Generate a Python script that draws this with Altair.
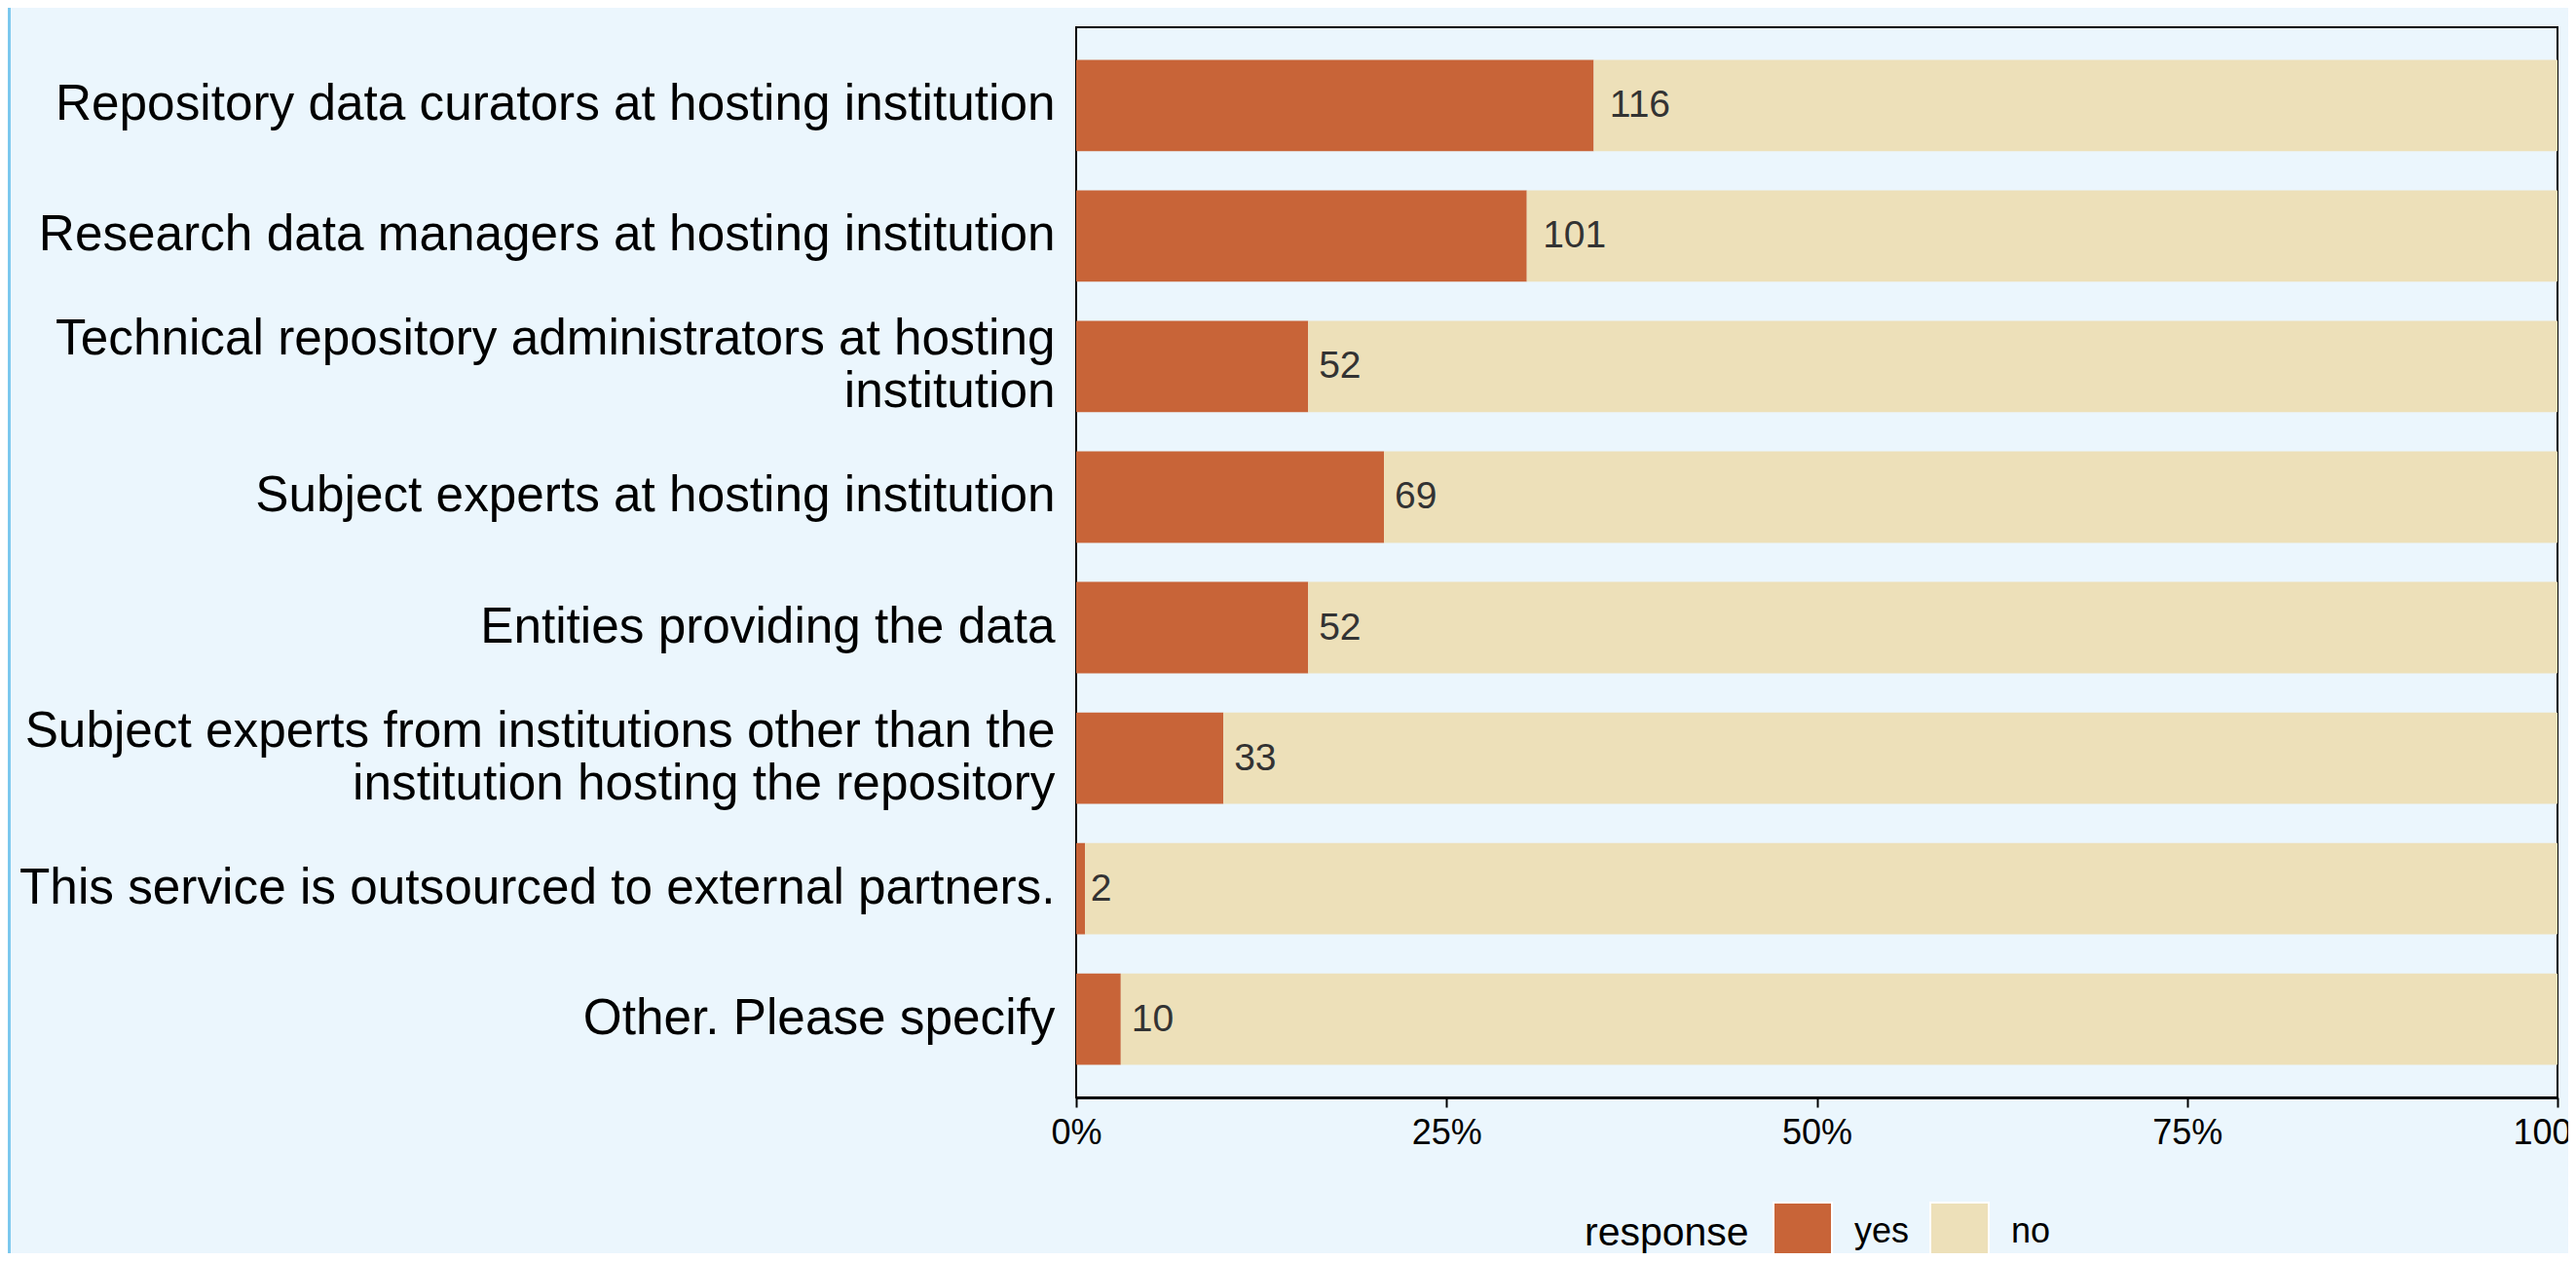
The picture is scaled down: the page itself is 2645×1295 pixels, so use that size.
import altair as alt
import pandas as pd

categories = [
    "Repository data curators at hosting institution",
    "Research data managers at hosting institution",
    "Technical repository administrators at hosting\ninstitution",
    "Subject experts at hosting institution",
    "Entities providing the data",
    "Subject experts from institutions other than the\ninstitution hosting the repository",
    "This service is outsourced to external partners.",
    "Other. Please specify",
]
yes_counts = [116, 101, 52, 69, 52, 33, 2, 10]
no_counts = [216, 231, 280, 263, 280, 299, 330, 322]
responses = ["yes", "no"]
colors = ["#c86438", "#ede0b9"]
x_ticks = [0, 0.25, 0.5, 0.75, 1]

rows = []
for c, y, n in zip(categories, yes_counts, no_counts):
    rows.append({"category": c, "response": "yes", "count": y, "ord": 0})
    rows.append({"category": c, "response": "no", "count": n, "ord": 1})
df = pd.DataFrame(rows)

FONT = "Liberation Sans"
BG = "#ebf6fd"
W, H = 1521, 1099
PAD_TOP = 20

y_enc = alt.Y(
    "category:N",
    sort=categories,
    scale=alt.Scale(paddingInner=0.3, paddingOuter=0.25),
    axis=alt.Axis(
        title=None,
        labelExpr="split(datum.label, '\\n')",
        labelFontSize=51.3,
        labelLineHeight=54,
        labelColor="black",
        labelFont=FONT,
        labelLimit=3000,
        labelPadding=22,
        labelOffset={
            "condition": {"test": "indexof(datum.label, '\\n') >= 0", "value": -27},
            "value": 0,
        },
        ticks=False,
        domain=False,
    ),
)

bars = alt.Chart(df).mark_bar().encode(
    x=alt.X(
        "count:Q",
        stack="normalize",
        scale=alt.Scale(domain=[0, 1], nice=False),
        axis=alt.Axis(
            title=None,
            values=x_ticks,
            format=".0%",
            labelFontSize=36,
            labelFont=FONT,
            labelColor="black",
            labelFlush=False,
            labelPadding=9,
            tickSize=10,
            tickWidth=2,
            tickColor="black",
            domainColor="black",
            domainWidth=3,
            grid=False,
        ),
    ),
    y=y_enc,
    color=alt.Color(
        "response:N",
        scale=alt.Scale(domain=responses, range=colors),
        legend=alt.Legend(
            title="response",
            orient="none",
            legendX=522,
            legendY=1206,
            direction="horizontal",
            titleOrient="left",
            titleFontSize=41,
            titleFont=FONT,
            titleFontWeight="normal",
            titleColor="black",
            titleBaseline="middle",
            titlePadding=24,
            labelFontSize=36,
            labelFont=FONT,
            labelColor="black",
            labelOffset=22,
            columnPadding=17,
            symbolType="square",
            symbolSize=3600,
            symbolStrokeColor="white",
            symbolStrokeWidth=2,
            symbolOpacity=1,
        ),
    ),
    order=alt.Order("ord:Q", sort="ascending"),
)

labels = (
    alt.Chart(df)
    .transform_joinaggregate(total="sum(count)", groupby=["category"])
    .transform_filter("datum.response == 'yes'")
    .transform_calculate(
        pos="datum.count / datum.total + length(toString(datum.count)) * 0.0036"
    )
    .mark_text(align="left", baseline="middle", fontSize=39, font=FONT, color="#333333")
    .encode(
        x=alt.X("pos:Q"),
        y=alt.Y("category:N", sort=categories),
        text="count:Q",
    )
)

stripe = alt.Chart(alt.Data(values=[{}])).mark_rect(color="#7cc8ee").encode(
    x=alt.value(-1097), x2=alt.value(-1094), y=alt.value(-PAD_TOP), y2=alt.value(1400)
)

chart = (
    alt.layer(stripe, bars, labels)
    .properties(
        width=W,
        height=H,
        background=BG,
        autosize=alt.AutoSizeParams(type="none"),
        padding={"left": 1097, "top": PAD_TOP, "right": 11, "bottom": 160},
    )
    .configure_view(stroke="black", strokeWidth=2)
)

chart.save("out.html", embed_options={"renderer": "svg", "actions": False})
